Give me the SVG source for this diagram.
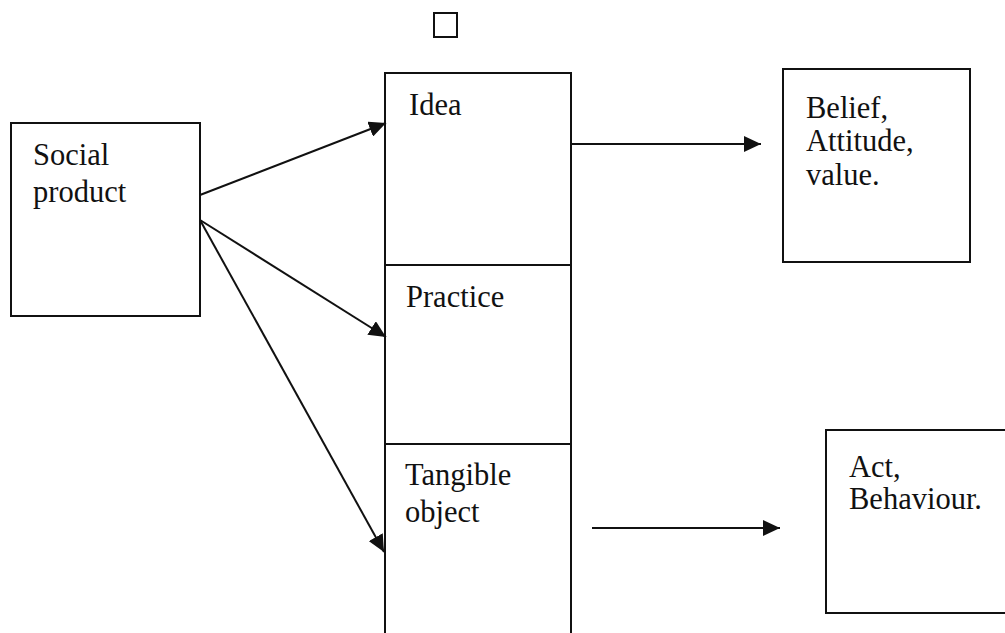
<svg xmlns="http://www.w3.org/2000/svg" width="1005" height="633" viewBox="0 0 1005 633">
  <style>
    .box { fill: none; stroke: #111; stroke-width: 2; }
    .conn { fill: none; stroke: #111; stroke-width: 2; }
    .lbl { font-family: "Liberation Serif", "Times New Roman", serif; font-size: 30.5px; fill: #111; }
  </style>
  <defs>
    <marker id="arrow" markerUnits="userSpaceOnUse" markerWidth="18" markerHeight="16" refX="17" refY="8" orient="auto">
      <path d="M0,0 L17,8 L0,16 Z" fill="#111"/>
    </marker>
  </defs>
  <rect width="1005" height="633" fill="#fff"/>

  <g id="marker-square">
    <rect class="box" x="434" y="13" width="23" height="24"/>
  </g>

  <g id="social-product">
    <rect class="box" x="11" y="123" width="189" height="193"/>
    <text class="lbl" x="33" y="165">Social</text>
    <text class="lbl" x="33" y="202">product</text>
  </g>

  <g id="column">
    <path class="box" d="M385,640 L385,73 L571,73 L571,640"/>
  </g>
  <g id="idea">
    <text class="lbl" x="409" y="115">Idea</text>
  </g>
  <g id="practice">
    <line class="box" x1="385" y1="265" x2="571" y2="265"/>
    <text class="lbl" x="406" y="307">Practice</text>
  </g>
  <g id="tangible-object">
    <line class="box" x1="385" y1="444" x2="571" y2="444"/>
    <text class="lbl" x="405" y="485">Tangible</text>
    <text class="lbl" x="405" y="522">object</text>
  </g>

  <g id="belief">
    <rect class="box" x="783" y="69" width="187" height="193"/>
    <text class="lbl" x="806" y="118">Belief,</text>
    <text class="lbl" x="806" y="151">Attitude,</text>
    <text class="lbl" x="806" y="185">value.</text>
  </g>

  <g id="act">
    <rect class="box" x="826" y="430" width="190" height="183"/>
    <text class="lbl" x="849" y="477">Act,</text>
    <text class="lbl" x="849" y="509">Behaviour.</text>
  </g>

  <g id="connectors">
    <line class="conn" x1="200" y1="195" x2="386" y2="123" marker-end="url(#arrow)"/>
    <line class="conn" x1="200" y1="220" x2="386" y2="337" marker-end="url(#arrow)"/>
    <line class="conn" x1="200" y1="220" x2="384" y2="552" marker-end="url(#arrow)"/>
    <line class="conn" x1="572" y1="144" x2="761" y2="144" marker-end="url(#arrow)"/>
    <line class="conn" x1="592" y1="528" x2="780" y2="528" marker-end="url(#arrow)"/>
  </g>
</svg>
